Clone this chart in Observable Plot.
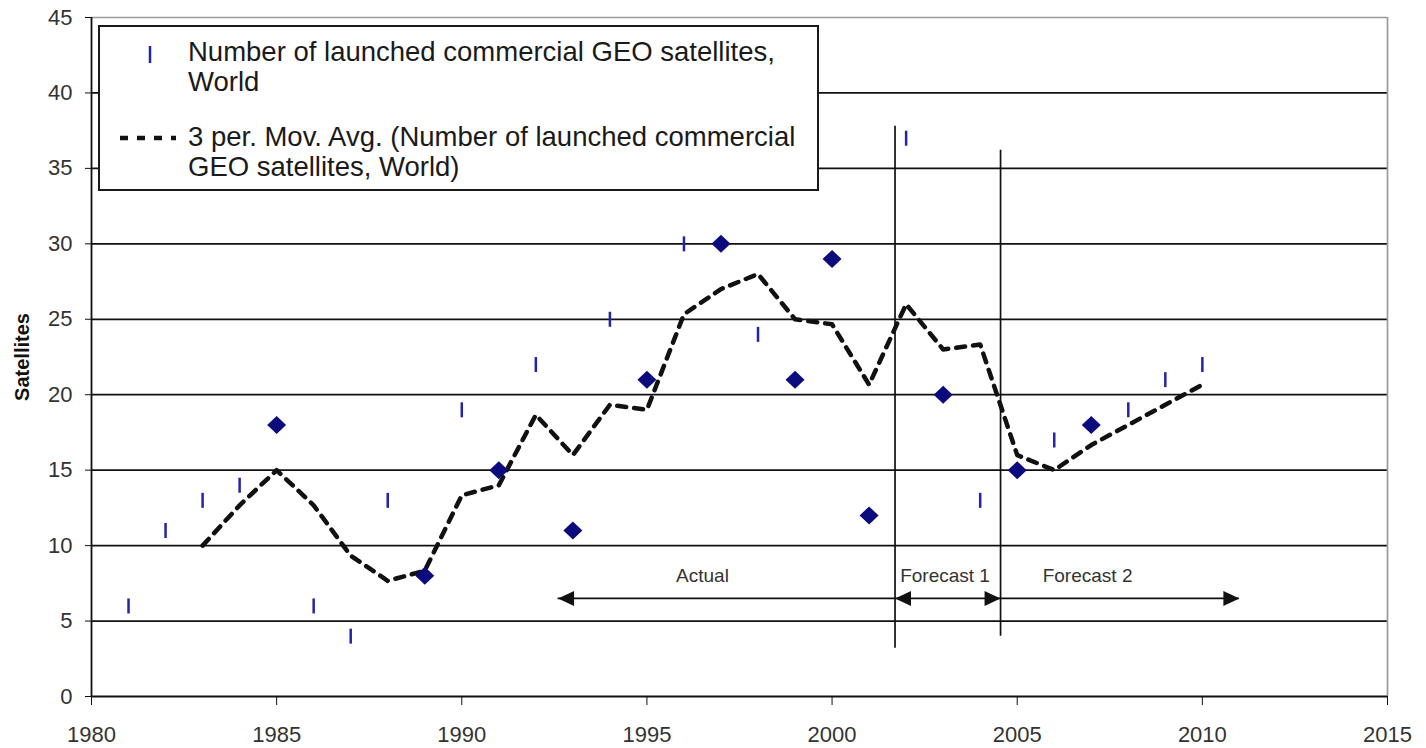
<!DOCTYPE html>
<html>
<head>
<meta charset="utf-8">
<script src="https://cdn.jsdelivr.net/npm/d3@7"></script>
<script src="https://cdn.jsdelivr.net/npm/@observablehq/plot@0.6"></script>
<style>
  body { margin: 0; background: #fff; font-family: "Liberation Sans", Arial, sans-serif; }
  #wrap { position: relative; width: 1426px; height: 748px; }
  #legend {
    position: absolute; left: 98px; top: 25px; width: 717px; height: 162px;
    border: 2px solid #1a1a1a; background: #fff; color: #1a1a1a;
  }
  #legend .entry {
    position: absolute; left: 88px; font-size: 27.5px; line-height: 30px; white-space: nowrap;
  }
  #legend svg { position: absolute; left: 0; top: 0; }
</style>
</head>
<body>
<div id="wrap">
  <div id="chart"></div>
  <div id="legend">
    <svg width="90" height="162">
      <line x1="50" x2="50" y1="19" y2="36" stroke="#2323a6" stroke-width="2.5"></line>
      <line x1="20" x2="76" y1="111" y2="111" stroke="#111" stroke-width="4.5" stroke-dasharray="8,9"></line>
    </svg>
    <div class="entry" style="top:10px">Number of launched commercial GEO satellites,<br>World</div>
    <div class="entry" style="top:95px">3 per. Mov. Avg. (Number of launched commercial<br>GEO satellites, World)</div>
  </div>
</div>
<script>
// Commercial GEO satellites launched worldwide, per year (actuals and forecasts)
const years    = [1981, 1982, 1983, 1984, 1985, 1986, 1987, 1988, 1989, 1990,
                  1991, 1992, 1993, 1994, 1995, 1996, 1997, 1998, 1999, 2000,
                  2001, 2002, 2003, 2004, 2005, 2006, 2007, 2008, 2009, 2010];
const launches = [6, 11, 13, 14, 18, 6, 4, 13, 8, 19,
                  15, 22, 11, 25, 21, 30, 30, 24, 21, 29,
                  12, 37, 20, 13, 15, 17, 18, 19, 21, 22];
// marker drawn for each year's point
const markers  = ["bar", "bar", "bar", "bar", "diamond", "bar", "bar", "bar", "diamond", "bar",
                  "diamond", "bar", "diamond", "bar", "diamond", "bar", "diamond", "bar", "diamond", "diamond",
                  "diamond", "bar", "diamond", "bar", "diamond", "bar", "diamond", "bar", "bar", "bar"];

const xTicks = [1980, 1985, 1990, 1995, 2000, 2005, 2010, 2015];
const yTicks = [0, 5, 10, 15, 20, 25, 30, 35, 40, 45];
const gridY  = [5, 10, 15, 20, 25, 30, 35, 40];

// period boundaries (year) and their vertical extent (satellites)
const boundaries = [
  {year: 2001.7,  bottom: 3.2, top: 37.8},
  {year: 2004.55, bottom: 4.0, top: 36.2}
];
// period spans with their arrows and captions
const spans = [
  {label: "Actual",     from: 1992.6,  to: 2001.7,  y: 6.5, left: true,  right: false, labelX: 1996.5, labelY: 8},
  {label: "Forecast 1", from: 2001.7,  to: 2004.55, y: 6.5, left: true,  right: true,  labelX: 2003.05, labelY: 8},
  {label: "Forecast 2", from: 2004.55, to: 2011.0,  y: 6.5, left: false, right: true,  labelX: 2006.9, labelY: 8}
];

const points = years.map((year, i) => ({year, value: launches[i], marker: markers[i]}));

// 3-period trailing moving average of the yearly launches
const movingAvg = years
  .map((year, i) => i < 2 ? null : {year, value: d3.mean(launches.slice(i - 2, i + 1))})
  .filter(Boolean);

// marker shapes
const barSymbol = {draw(ctx) { ctx.moveTo(0, -7.5); ctx.lineTo(0, 7.5); }};
const diamondSymbol = {draw(ctx) {
  ctx.moveTo(0, -9); ctx.lineTo(9.5, 0); ctx.lineTo(0, 9); ctx.lineTo(-9.5, 0); ctx.closePath();
}};
const headRight = {draw(ctx) { ctx.moveTo(0, 0); ctx.lineTo(-16, -7.5); ctx.lineTo(-16, 7.5); ctx.closePath(); }};
const headLeft  = {draw(ctx) { ctx.moveTo(0, 0); ctx.lineTo(16, -7.5); ctx.lineTo(16, 7.5); ctx.closePath(); }};

const chart = Plot.plot({
  width: 1426,
  height: 748,
  marginLeft: 91,
  marginRight: 39,
  marginTop: 17,
  marginBottom: 52,
  style: {fontFamily: '"Liberation Sans", Arial, sans-serif', fontSize: "22px", color: "#333", background: "white", overflow: "visible"},
  x: {domain: [1980, 2015]},
  y: {domain: [0, 45]},
  marks: [
    // plot area: grid, frame edges
    Plot.ruleY(gridY, {stroke: "#111", strokeWidth: 1.7}),
    Plot.ruleY([45], {stroke: "#9a9a9a", strokeWidth: 1.7}),
    Plot.ruleX([2015], {stroke: "#9a9a9a", strokeWidth: 1.7}),
    Plot.ruleY([0], {stroke: "#111", strokeWidth: 1.8}),
    Plot.ruleX([1980], {stroke: "#111", strokeWidth: 1.8}),
    Plot.axisY(yTicks, {tickSize: 6, tickPadding: 13, label: null, fontSize: 22, stroke: "#111"}),
    Plot.axisX(xTicks, {tickSize: 9, tickPadding: 21, tickFormat: "d", label: null, fontSize: 22, stroke: "#111"}),
    Plot.text(["Satellites"], {frameAnchor: "left", textAnchor: "middle", dx: -69, rotate: -90, fontWeight: "bold", fontSize: 20, fill: "#111"}),

    // period annotations
    Plot.ruleX(boundaries, {x: "year", y1: "bottom", y2: "top", stroke: "#111", strokeWidth: 1.7}),
    Plot.ruleY(spans, {y: "y", x1: "from", x2: "to", stroke: "#111", strokeWidth: 1.7}),
    Plot.dot(spans.filter(d => d.left), {x: "from", y: "y", symbol: headLeft, fill: "#111", stroke: "none"}),
    Plot.dot(spans.filter(d => d.right), {x: "to", y: "y", symbol: headRight, fill: "#111", stroke: "none"}),
    Plot.text(spans, {x: "labelX", y: "labelY", text: "label", fontSize: 19, fill: "#333"}),

    // moving average trend
    Plot.line(movingAvg, {x: "year", y: "value", stroke: "#111", strokeWidth: 4.5, strokeDasharray: "9,8"}),

    // yearly launches
    Plot.dot(points.filter(d => d.marker === "bar"), {x: "year", y: "value", symbol: barSymbol, fill: "none", stroke: "#2323a6", strokeWidth: 2.5}),
    Plot.dot(points.filter(d => d.marker === "diamond"), {x: "year", y: "value", symbol: diamondSymbol, fill: "#0b0b7e", stroke: "none"})
  ]
});

document.getElementById("chart").appendChild(chart);
</script>
</body>
</html>
